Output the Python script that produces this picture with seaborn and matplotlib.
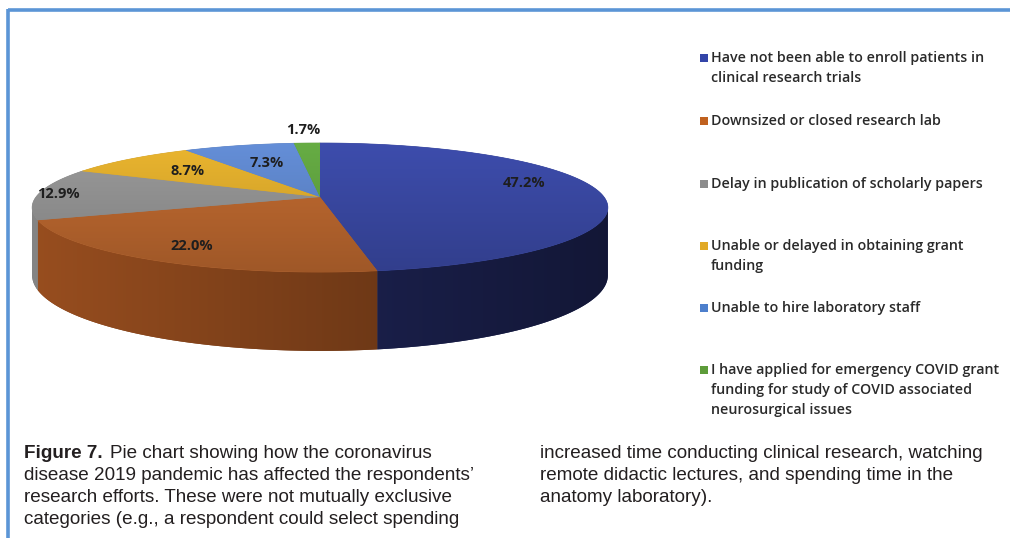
import numpy as np
import matplotlib
matplotlib.use("Agg")
import matplotlib.pyplot as plt
from matplotlib import font_manager as fm
from matplotlib.patches import Polygon
import seaborn as sns

# ---- data -------------------------------------------------------------
categories = [
    "Have not been able to enroll patients in\nclinical research trials",
    "Downsized or closed research lab",
    "Delay in publication of scholarly papers",
    "Unable or delayed in obtaining grant\nfunding",
    "Unable to hire laboratory staff",
    "I have applied for emergency COVID grant\nfunding for study of COVID associated\nneurosurgical issues",
]
shares = [47.2, 22.0, 12.9, 8.7, 7.3, 1.7]

caption_left = [
    "Pie chart showing how the coronavirus",
    "disease 2019 pandemic has affected the respondents\u2019",
    "research efforts. These were not mutually exclusive",
    "categories (e.g., a respondent could select spending",
]
caption_right = [
    "increased time conducting clinical research, watching",
    "remote didactic lectures, and spending time in the",
    "anatomy laboratory).",
]

# ---- styling ----------------------------------------------------------
sns.set_theme(style="white")
top_colors = sns.color_palette(["#37459b", "#b0612c", "#8b8b8b", "#d3a32a", "#5a80c2", "#5c9b3d"])
side_colors = sns.color_palette(["#1d2353", "#7f411a", "#6f6f6f", "#a67f1f", "#3f5f96", "#44762c"])
key_colors = sns.color_palette(["#3345a8", "#c0611f", "#8c8c8c", "#e1a925", "#4d7fcc", "#5d9c3a"])
label_radius = [0.73, 0.80, 0.93, 0.67, 0.62, 1.30]
label_lift = [10, 0, 0, 0, 0, 0]

installed = {f.name for f in fm.fontManager.ttflist}
ui_font = "Open Sans" if "Open Sans" in installed else "DejaVu Sans"
cap_font = "Liberation Sans Narrow" if "Liberation Sans Narrow" in installed else "Liberation Sans"
cap_size = 12.6 if cap_font == "Liberation Sans Narrow" else 13.55
plt.rcParams["font.family"] = [ui_font, "DejaVu Sans"]

fig = plt.figure(figsize=(10.10, 5.38), dpi=100)
fig.patch.set_facecolor("white")
ax = fig.add_axes([0, 0, 1, 1])
ax.axis("off")

# ---- 3-D pie geometry (mild perspective) ------------------------------
CX, CY = 320.0, 197.0
RX, RY = 284.0, 62.8
K = 0.163
DEPTH = 66.0


def project(theta_deg, r=1.0):
    t = np.radians(theta_deg)
    X, Y = r * np.cos(t), r * np.sin(t)
    den = 1.0 + K * Y
    return CX + RX * X / den, CY - RY * Y / den, den


total = float(sum(shares))
spans = [360.0 * v / total for v in shares]
starts = 90.0 - np.concatenate([[0.0], np.cumsum(spans)[:-1]])
ends = starts - np.array(spans)

theta_left = -180.0 + np.degrees(np.arcsin(K))
theta_right = -np.degrees(np.arcsin(K))

x_min, x_max = CX - RX * 1.03, CX + RX * 1.03
y_top = CY - RY / (1 + K) - 3
y_floor = CY + RY / (1 - K) + DEPTH / (1 - K) + 3

# side walls (front half only), each filled with a left-to-right shading
cols = np.linspace(0.0, 1.0, 256)[None, :]
for i in range(len(shares)):
    th = np.linspace(starts[i], ends[i], max(8, int(spans[i] * 4)))
    wrapped = (th + 180.0) % 360.0 - 180.0
    vis = th[(wrapped >= theta_left) & (wrapped <= theta_right)]
    if len(vis) < 2:
        continue
    upper = [project(a) for a in vis]
    top_edge = [(x, y) for x, y, _ in upper]
    low_edge = [(x, y + DEPTH / d) for x, y, d in upper][::-1]
    wall = Polygon(top_edge + low_edge, closed=True, facecolor=side_colors[i],
                   edgecolor="none", zorder=1)
    ax.add_patch(wall)
    base = np.array(side_colors[i])
    grad = np.clip(base[None, None, :] * (1.2 - 0.55 * cols[:, :, None]), 0, 1)
    grad = np.repeat(grad, 4, axis=0)
    im = ax.imshow(grad, extent=[x_min, x_max, y_floor, y_top], origin="upper",
                   aspect="auto", interpolation="bilinear", zorder=1.5)
    im.set_clip_path(wall)

# top faces with a soft vertical gradient
y_bot = CY + RY / (1 - K) + 3
rows = np.linspace(0.0, 1.0, 128)[:, None]
for i in range(len(shares)):
    th = np.linspace(starts[i], ends[i], max(6, int(spans[i] * 2)))
    pts = [(CX, CY)] + [project(a)[:2] for a in th]
    poly = Polygon(pts, closed=True, facecolor=top_colors[i], edgecolor=top_colors[i],
                   lw=0.5, zorder=2)
    ax.add_patch(poly)
    base = np.array(top_colors[i])
    grad = np.clip(base[None, None, :] * (1.12 - 0.22 * rows[:, :, None]), 0, 1)
    grad = np.repeat(grad, 4, axis=1)
    im = ax.imshow(grad, extent=[x_min, x_max, y_bot, y_top], origin="upper",
                   aspect="auto", interpolation="bilinear", zorder=2.5)
    im.set_clip_path(poly)

# value labels
for i, v in enumerate(shares):
    mid = 0.5 * (starts[i] + ends[i])
    lx, ly, _ = project(mid, label_radius[i])
    ax.text(lx, ly - label_lift[i], f"{v:.1f}%", ha="center", va="center", fontsize=10.5,
            fontweight="bold", color="#1e1e1e", zorder=5)

# ---- key ---------------------------------------------------------------
key_rows = [58, 121, 184, 246, 308, 370]
for i, (label, y0) in enumerate(zip(categories, key_rows)):
    ax.scatter([703.5], [y0], marker="s", s=36, color=key_colors[i], zorder=5, linewidths=0)
    for j, line in enumerate(label.split("\n")):
        ax.text(711, y0 + 20 * j, line, ha="left", va="center", fontsize=10.3,
                fontweight="semibold", color="#2a2a2a", zorder=5)

# ---- frame -------------------------------------------------------------
frame_col = "#5b95d6"
ax.plot([8, 1012], [10, 10], color=frame_col, lw=2.6, solid_capstyle="butt", zorder=6)
ax.plot([8, 8], [8.7, 540], color=frame_col, lw=2.6, solid_capstyle="butt", zorder=6)

# ---- caption -----------------------------------------------------------
ax.set_xlim(0, 1010)
ax.set_ylim(538, 0)
cap_kw = dict(fontsize=cap_size, color="#231f20", va="center", family=[cap_font, "DejaVu Sans"], zorder=5)
line_y = [454, 476, 498, 520]
head = ax.text(24, line_y[0], "Figure 7.", fontweight="bold", ha="left", **cap_kw)
fig.canvas.draw()
bb = head.get_window_extent()
x_after = ax.transData.inverted().transform((bb.x1, 0))[0] + 7
ax.text(x_after, line_y[0], caption_left[0], ha="left", **cap_kw)
for y, line in zip(line_y[1:], caption_left[1:]):
    ax.text(24, y, line, ha="left", **cap_kw)
for y, line in zip(line_y, caption_right):
    ax.text(540, y, line, ha="left", **cap_kw)

ax.set_xlim(0, 1010)
ax.set_ylim(538, 0)
fig.savefig("out.png", dpi=100, facecolor="white")
